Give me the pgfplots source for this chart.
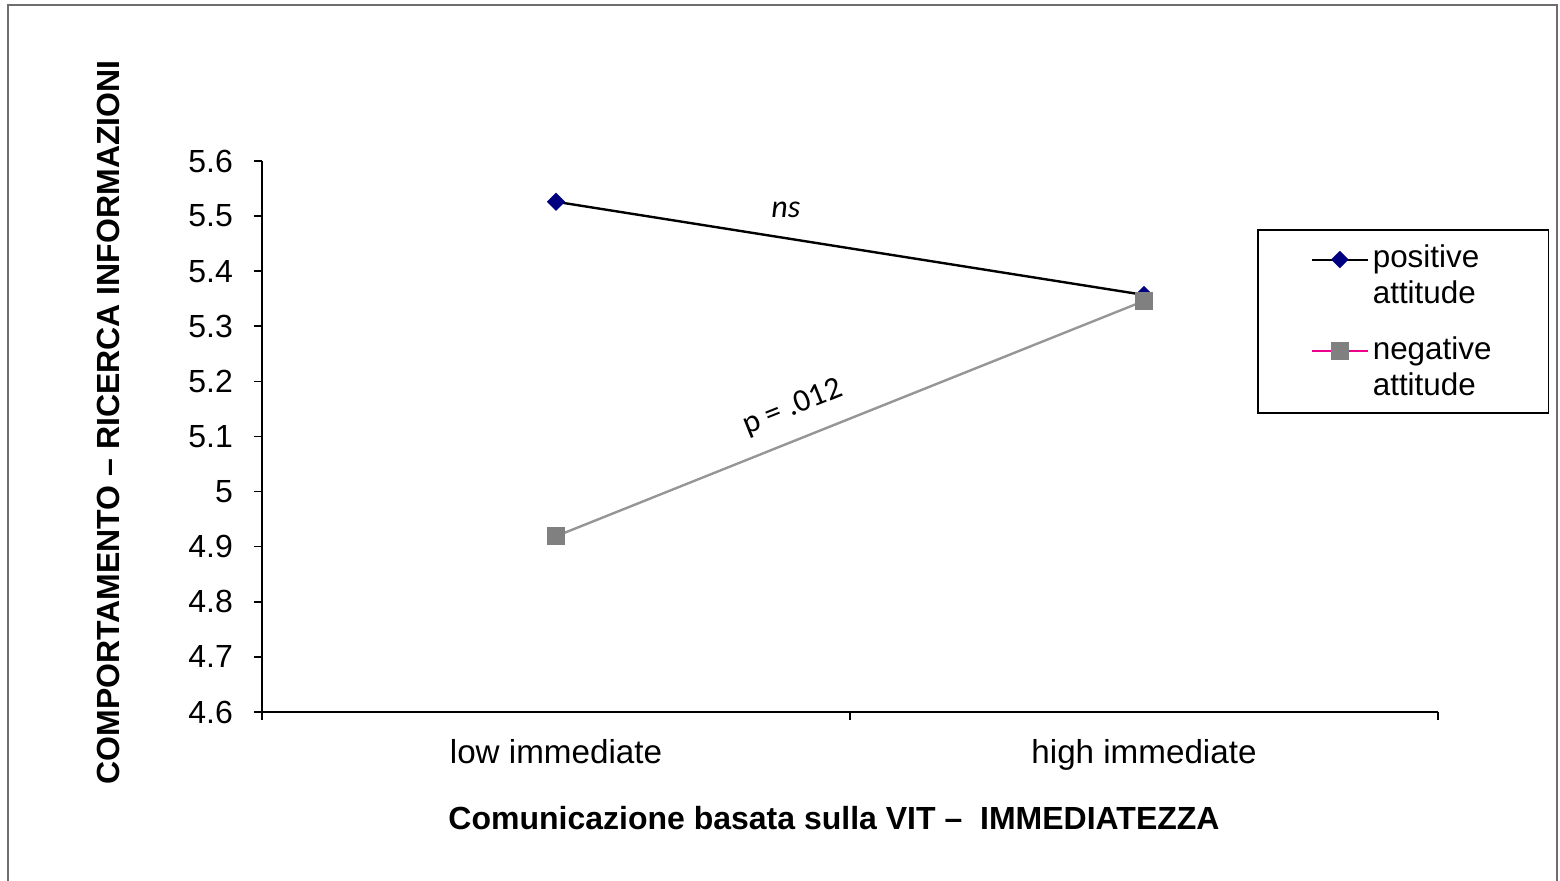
\documentclass[border=0pt]{standalone}
\usepackage{pgfplots}
\pgfplotsset{compat=1.18}
\usepackage{fontspec}
\setmainfont{Liberation Sans}
\newfontfamily\calibri{Carlito}
\definecolor{navy}{RGB}{0,0,128}
\definecolor{markgray}{RGB}{128,128,128}
\definecolor{linegray}{RGB}{150,150,150}
\definecolor{framegray}{RGB}{110,110,110}
\newcommand{\sz}{\fontsize{16}{18}\selectfont}
\begin{document}
\begin{tikzpicture}[x=1pt,y=1pt]
\useasboundingbox (-131,-84.5) rectangle (649,356);
\draw[framegray, line width=1pt] (-127,-90) -- (-127,353.5) -- (647.5,353.5) -- (647.5,-90);
\begin{axis}[
  at={(0,0)}, anchor=south west,
  scale only axis, width=588pt, height=275.5pt,
  xmin=-0.5, xmax=1.5, ymin=4.6, ymax=5.6,
  axis lines=left,
  axis line style={-, black, line width=0.8pt},
  xtick={0,1}, xticklabels={low immediate, high immediate},
  major x tick style={draw=none},
  minor xtick={-0.5,0.5,1.5},
  minor x tick style={black, line width=0.8pt},
  minor tick length=4pt,
  ytick distance=0.1,
  major tick length=4pt,
  tick align=outside,
  y tick style={black, line width=0.8pt},
  /pgf/number format/assume math mode=true,
  tick label style={font=\sz, black},
  yticklabel style={xshift=-7pt},
  xticklabel style={yshift=-6pt, font=\fontsize{16.6}{18}\selectfont},
  legend image code/.code={\draw[mark repeat=2,mark phase=2,#1] plot coordinates {(0pt,22pt) (14pt,22pt) (28pt,22pt)};},
  legend style={at={(0.8461,0.8766)}, anchor=north west, draw=black, line width=0.8pt, fill=white,
    font=\fontsize{15.7}{18}\selectfont, inner xsep=26.5pt, inner ysep=5.5pt, row sep=11pt,
    cells={anchor=base west, align=left}},
]
\addplot[black, line width=1.2pt, mark=square*, mark size=2.6pt, mark options={rotate=45, fill=navy, draw=navy}, forget plot]
  coordinates {(0,5.526) (1,5.357)};
\addplot[linegray, line width=1.2pt, mark=square*, mark size=4pt, mark options={fill=markgray, draw=markgray}, forget plot]
  coordinates {(0,4.919) (1,5.346)};
\addlegendimage{black, line width=1pt, mark=square*, mark size=2.6pt, mark options={rotate=45, fill=navy, draw=navy}}
\addlegendentry{positive\\attitude}
\addlegendimage{magenta, line width=1pt, mark=square*, mark size=4pt, mark options={fill=markgray, draw=markgray}}
\addlegendentry{negative\\attitude}
\node[font=\calibri\itshape\fontsize{16}{18}\selectfont] at (axis cs:0.391,5.512) {ns};
\node[font=\calibri\fontsize{16}{18}\selectfont, rotate=21.8] at (axis cs:0.403,5.152) {p = .012};
\end{axis}
\node[font=\bfseries\sz] at (286,-53) {Comunicazione basata sulla VIT \textendash\ \ IMMEDIATEZZA};
\node[font=\bfseries\sz, rotate=90] at (-77,144.75) {COMPORTAMENTO \textendash\ RICERCA INFORMAZIONI};
\end{tikzpicture}
\end{document}
